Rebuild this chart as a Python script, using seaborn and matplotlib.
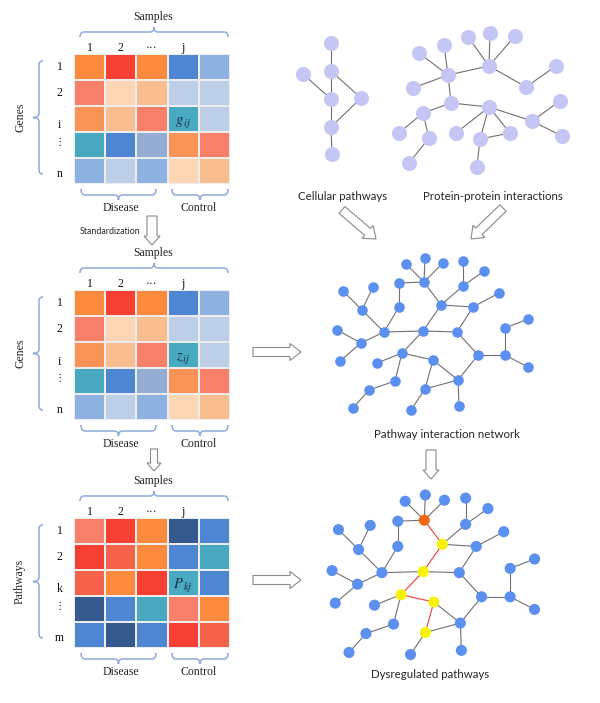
import numpy as np
import seaborn as sns
import matplotlib.pyplot as plt
from matplotlib.colors import ListedColormap
from matplotlib.path import Path
from matplotlib.patches import PathPatch, FancyArrow

sns.set_theme(style="white")
plt.rcParams['mathtext.fontset'] = 'stix'

# palette used by the three heatmaps
palette = ['#FB8A3C', '#F63F33', '#4F86D1', '#8DB1E1', '#F8806B', '#FCD5B5', '#F9BE8F',
           '#BDCFE7', '#F99456', '#48A9C1', '#93ADD3', '#36598E', '#F4634A']

genes_mat = [[0, 1, 0, 2, 3],
             [4, 5, 6, 7, 7],
             [8, 6, 4, 9, 7],
             [9, 2, 10, 8, 4],
             [3, 7, 3, 5, 6]]
path_mat = [[4, 1, 0, 11, 2],
            [1, 12, 0, 2, 9],
            [12, 0, 1, 9, 2],
            [11, 2, 9, 4, 0],
            [2, 11, 2, 1, 12]]

col_labels = ['1', '2', '···', 'j']
gene_rows = ['1', '2', 'i', '⋮', 'n']
path_rows = ['1', '2', 'k', '⋮', 'm']
row_pos = [0.5, 1.5, 2.75, 3.4, 4.6]

# cellular pathway + PPI graphs (pixel layout)
cell_x = [331, 331, 303, 331, 361, 331, 332]
cell_y = [43, 71, 74, 99, 98, 127, 154]
cell_edges = [(0, 1), (1, 3), (2, 3), (1, 4), (3, 5), (4, 5), (5, 6)]

ppi_x = [419, 444, 448, 413, 468, 490, 515, 489, 526, 556, 451, 423, 399, 429, 409,
         489, 456, 480, 510, 477, 532, 560, 562]
ppi_y = [53, 45, 75, 88, 37, 33, 36, 66, 87, 66, 103, 113, 133, 138, 163,
         107, 133, 139, 133, 167, 121, 101, 136]
ppi_edges = [(1, 3), (2, 3), (4, 3), (3, 8), (5, 8), (6, 8), (7, 8), (8, 9), (9, 10), (3, 11),
             (11, 12), (12, 13), (12, 14), (14, 15), (11, 16), (16, 17), (16, 18), (16, 19),
             (18, 19), (18, 20), (16, 21), (21, 22), (21, 23)]

# pathway interaction network
net_x = [406, 425, 443, 463, 484, 399, 424, 463, 343, 373, 499, 441, 473, 362, 399, 528,
         337, 384, 423, 457, 505, 361, 402, 433, 478, 505, 340, 377, 528, 395, 458, 369,
         425, 353, 411, 459]
net_y = [264, 258, 263, 261, 271, 283, 282, 286, 291, 287, 293, 305, 307, 310, 307, 319,
         330, 332, 331, 332, 328, 343, 353, 360, 355, 355, 361, 363, 367, 381, 380, 390,
         389, 408, 410, 406]
net_edges = [(1, 7), (2, 7), (3, 7), (6, 7), (6, 15), (7, 12), (4, 8), (5, 8), (8, 12), (12, 13),
             (11, 13), (9, 14), (10, 14), (14, 18), (15, 18), (18, 19), (19, 20), (12, 19),
             (13, 20), (17, 22), (22, 18), (27, 22), (19, 23), (23, 28), (23, 24), (23, 30),
             (30, 32), (32, 34), (24, 33), (24, 31), (33, 31), (33, 35), (31, 36), (20, 25),
             (25, 31), (25, 26), (26, 21), (21, 16), (26, 29)]
dys_path = [(7, 12), (12, 19), (19, 23), (23, 24), (24, 33)]
dys_seed = [7]
dys_nodes = [12, 19, 23, 24, 33]

W, H = 600, 703
fig = plt.figure(figsize=(6, 7.03), dpi=100)
fig.patch.set_facecolor('white')

serif = ['Liberation Serif', 'DejaVu Sans', 'Noto Sans CJK SC']
sans = 'Lato'
brace_c = '#8EAADB'
cmap = ListedColormap(palette)


def brace(ax, a0, a1, c, hook, tip, vertical=False, tip_at=None):
    m = (a0 + a1) / 2 if tip_at is None else tip_at
    r = 4
    pts = [(a0, c + hook), (a0, c), (a0 + r, c), (m - r, c), (m, c), (m, c - tip),
           (m, c), (m + r, c), (a1 - r, c), (a1, c), (a1, c + hook)]
    codes = [Path.MOVETO, Path.CURVE3, Path.CURVE3, Path.LINETO, Path.CURVE3, Path.CURVE3,
             Path.CURVE3, Path.CURVE3, Path.LINETO, Path.CURVE3, Path.CURVE3]
    if vertical:
        pts = [(q, p) for p, q in pts]
    ax.add_patch(PathPatch(Path(pts, codes), fc='none', ec=brace_c, lw=1.1))


def arrow(ax, x0, y0, x1, y1, w, hw, hl):
    ax.add_patch(FancyArrow(x0, y0, x1 - x0, y1 - y0, width=w, head_width=hw, head_length=hl,
                            length_includes_head=True, fc='white', ec='#8A8A8A', lw=0.8))


ov = fig.add_axes([0, 0, 1, 1], zorder=5)
ov.set_xlim(0, W)
ov.set_ylim(H, 0)
ov.axis('off')
ov.patch.set_visible(False)

blocks = [(0, genes_mat, gene_rows, 'Genes', r'$g_{\,ij}$'),
          (236, genes_mat, gene_rows, 'Genes', r'$z_{\,ij}$'),
          (464, path_mat, path_rows, 'Pathways', r'$P_{\,kj}$')]

for dy, mat, rows, ylab, cell_txt in blocks:
    hx = fig.add_axes([74 / W, 1 - (184 + dy) / H, 156 / W, 130 / H])
    sns.heatmap(np.array(mat), cmap=cmap, vmin=-0.5, vmax=len(palette) - 0.5, cbar=False,
                linewidths=1.3, linecolor='#EDEDED', xticklabels=False, yticklabels=False, ax=hx)
    hx.text(3.5, 2.62, cell_txt, ha='center', va='center', fontsize=10.5, color='#1C2B45')
    for j, lab in enumerate(col_labels):
        hx.text(j + 0.5, -0.24, lab, ha='center', va='center', fontsize=8.5, family=serif,
                clip_on=False, color='#111111')
    for lab, yp in zip(rows, row_pos):
        hx.text(-0.46, yp, lab, ha='center', va='center', fontsize=8.5 if lab != '⋮' else 7.5,
                family=serif, clip_on=False, color='#111111')

    ov.text(153, 17 + dy, 'Samples', ha='center', va='center', fontsize=8.5, family=serif)
    brace(ov, 80, 228, 32 + dy, 5, 5)
    brace(ov, 61 + dy, 174 + dy, 39, 4, 6, vertical=True)
    ov.text(20, 117 + dy, ylab, ha='center', va='center', rotation=90, fontsize=8.5, family=serif)
    brace(ov, 81, 156, 195 + dy, -6, -5)
    brace(ov, 172, 228, 195 + dy, -6, -5)
    ov.text(121, 208 + dy, 'Disease', ha='center', va='center', fontsize=8.5, family=serif)
    ov.text(199, 208 + dy, 'Control', ha='center', va='center', fontsize=8.5, family=serif)

ov.text(110, 232, 'Standardization', ha='center', va='center', fontsize=6.4, family=sans)
arrow(ov, 152, 216, 152, 245, 10, 16, 9)
arrow(ov, 154, 449, 154, 471, 7, 14, 8)
arrow(ov, 253, 352, 301, 352, 9, 17, 11)
arrow(ov, 253, 580, 301, 580, 9, 17, 11)
arrow(ov, 342, 210, 376, 239, 9, 17, 11)
arrow(ov, 503, 208, 471, 239, 9, 17, 11)
arrow(ov, 431, 450, 431, 479, 10, 16, 9)

ov.text(343, 197, 'Cellular pathways', ha='center', va='center', fontsize=8.3, family=sans)
ov.text(493, 197, 'Protein-protein interactions', ha='center', va='center', fontsize=8.3,
        family=sans)
ov.text(447, 435, 'Pathway interaction network', ha='center', va='center', fontsize=8.3,
        family=sans)
ov.text(430, 675, 'Dysregulated pathways', ha='center', va='center', fontsize=8.3, family=sans)

# lavender input graphs
for xs, ys, edges, base in [(cell_x, cell_y, cell_edges, 0), (ppi_x, ppi_y, ppi_edges, 1)]:
    for a, b in edges:
        ov.plot([xs[a - base], xs[b - base]], [ys[a - base], ys[b - base]], color='#707070',
                lw=0.8, zorder=1)
    sns.scatterplot(x=xs, y=ys, color='#C4C6F4', s=118, linewidth=0, ax=ov, zorder=2)

# pathway interaction network
for a, b in net_edges:
    ov.plot([net_x[a - 1], net_x[b - 1]], [net_y[a - 1], net_y[b - 1]], color='#707070',
            lw=0.8, zorder=1)
sns.scatterplot(x=net_x, y=net_y, color='#5B8FF0', s=58, linewidth=0, ax=ov, zorder=2)

# dysregulated copy, slightly enlarged
dx = [433.3 + 1.06 * (v - 432.5) for v in net_x]
dyy = [573.7 + 1.05 * (v - 333) for v in net_y]
for a, b in net_edges:
    red = (a, b) in dys_path
    ov.plot([dx[a - 1], dx[b - 1]], [dyy[a - 1], dyy[b - 1]],
            color='#F03A3A' if red else '#707070', lw=0.8, zorder=1)
node_col = ['#F26A10' if i + 1 in dys_seed else '#F7F20A' if i + 1 in dys_nodes else '#5B8FF0'
            for i in range(len(dx))]
ov.scatter(dx, dyy, c=node_col, s=64, linewidths=0, zorder=2)
ov.set_xlim(0, W)
ov.set_ylim(H, 0)

fig.savefig('out.png', dpi=100, facecolor='white')
